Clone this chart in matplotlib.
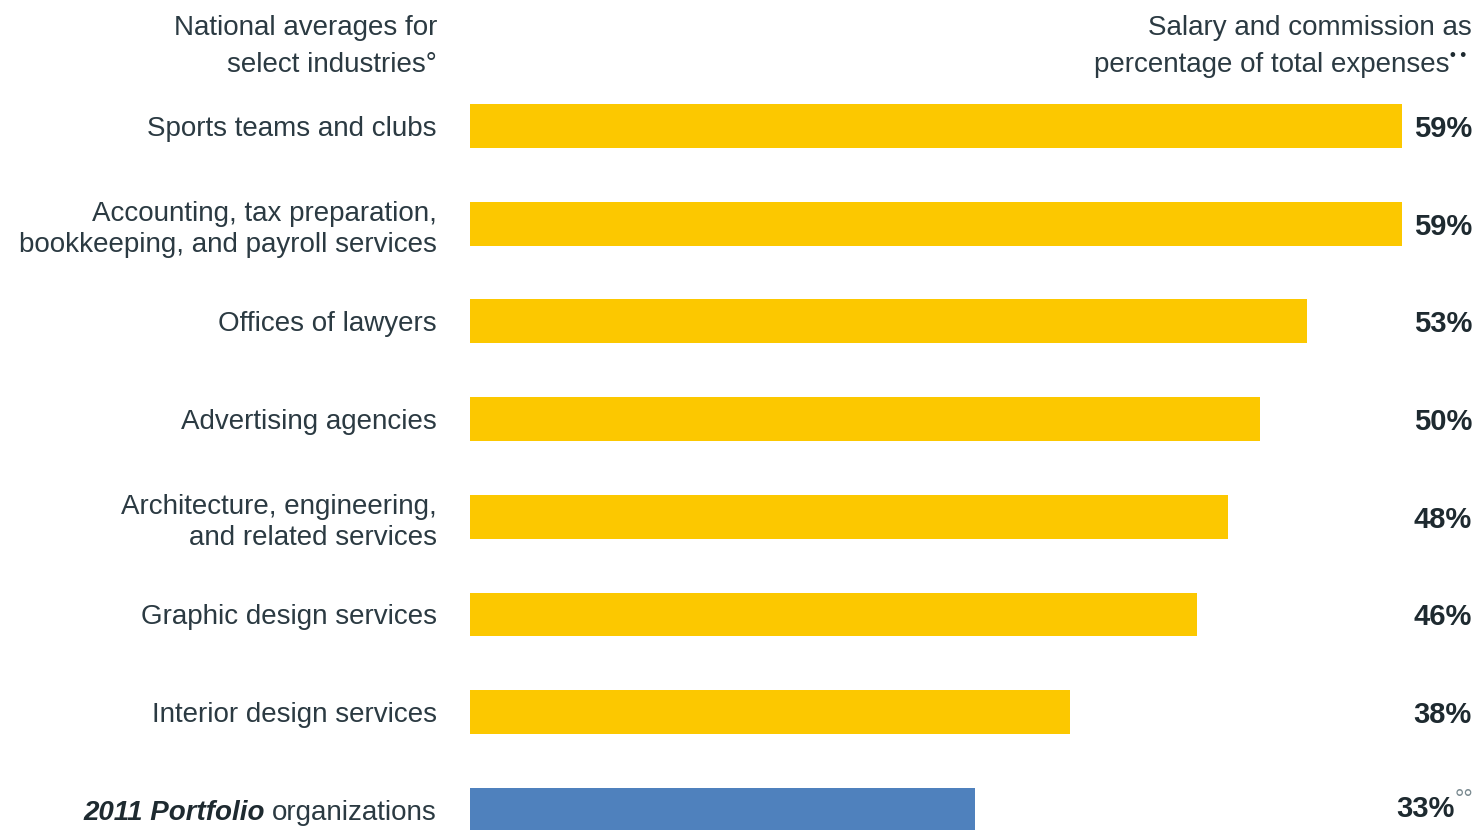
import matplotlib.pyplot as plt
import matplotlib.transforms as mtransforms

# data
industries = [
    'Sports teams and clubs',
    'Accounting, tax preparation,\nbookkeeping, and payroll services',
    'Offices of lawyers',
    'Advertising agencies',
    'Architecture, engineering,\nand related services',
    'Graphic design services',
    'Interior design services',
    '',  # last row labelled separately (mixed fonts)
]
bar_values = [59, 59, 53, 50, 48, 46, 38, 32]
value_labels = ['59%', '59%', '53%', '50%', '48%', '46%', '38%', '33%']
bar_colors = ['#FCC800'] * 7 + ['#4F81BD']

plt.rcParams['font.family'] = ['Liberation Sans', 'DejaVu Sans']
txt_color = '#2b3a42'
fs = 20

fig = plt.figure(figsize=(14.82, 8.30), dpi=100)
# axes spans x 470..1402 px (0..59) and top ~77 px to the bottom edge
ax = fig.add_axes([470 / 1482, 0.0, (1402 - 470) / 1482, 752.8 / 830])

ypos = list(range(len(industries)))
ax.barh(ypos, bar_values, height=0.45, color=bar_colors)
ax.set_xlim(0, 59)
ax.set_ylim(7.206, -0.5)

ax.set_yticks(ypos)
ax.set_yticklabels(industries, fontsize=fs, color=txt_color, linespacing=1.25)
ax.tick_params(axis='y', length=0, pad=24)
ax.set_xticks([])
for s in ax.spines.values():
    s.set_visible(False)

# value labels at the right edge
trans = mtransforms.blended_transform_factory(fig.transFigure, ax.transData)
for y, lab in zip(ypos[:-1], value_labels[:-1]):
    ax.text(1472 / 1482, y, lab, transform=trans, ha='right', va='center_baseline',
            fontsize=21, fontweight='bold', color='#1e2a30', clip_on=False)
sup = ax.text(1473 / 1482, ypos[-1] - 0.1, '°°', transform=trans, ha='right', va='center',
              fontsize=17, color='#7a8a90', clip_on=False)
ax.annotate(value_labels[-1], xy=(0, 0.25), xycoords=sup, ha='right', va='center_baseline',
            fontsize=21, fontweight='bold', color='#1e2a30')

# last row label: bold italic part + regular part
org = ax.text(-33 / 15.8, ypos[-1], 'organizations', ha='right', va='center_baseline',
              fontsize=fs, color=txt_color, clip_on=False)
ax.annotate('2011 Portfolio ', xy=(0, 0.5), xycoords=org, ha='right', va='center',
            fontsize=fs, fontweight='bold', fontstyle='italic', color='#1e2a30')

# headers
fig.text(437 / 1482, 1 - 25 / 830, 'National averages for',
         ha='right', va='center_baseline', fontsize=fs, color=txt_color)
fig.text(437 / 1482, 1 - 62 / 830, 'select industries°',
         ha='right', va='center_baseline', fontsize=fs, color=txt_color)
fig.text(1472 / 1482, 1 - 25 / 830, 'Salary and commission as',
         ha='right', va='center_baseline', fontsize=fs, color=txt_color)
pct = fig.text(1449 / 1482, 1 - 62 / 830, 'percentage of total expenses',
               ha='right', va='center_baseline', fontsize=fs, color=txt_color)
ax.annotate('• •', xy=(1, 0.85), xycoords=pct, xytext=(1, 0), textcoords='offset points',
            ha='left', va='center', fontsize=12, fontweight='bold', color='#1e2a30')

fig.savefig('out.png', dpi=100)
